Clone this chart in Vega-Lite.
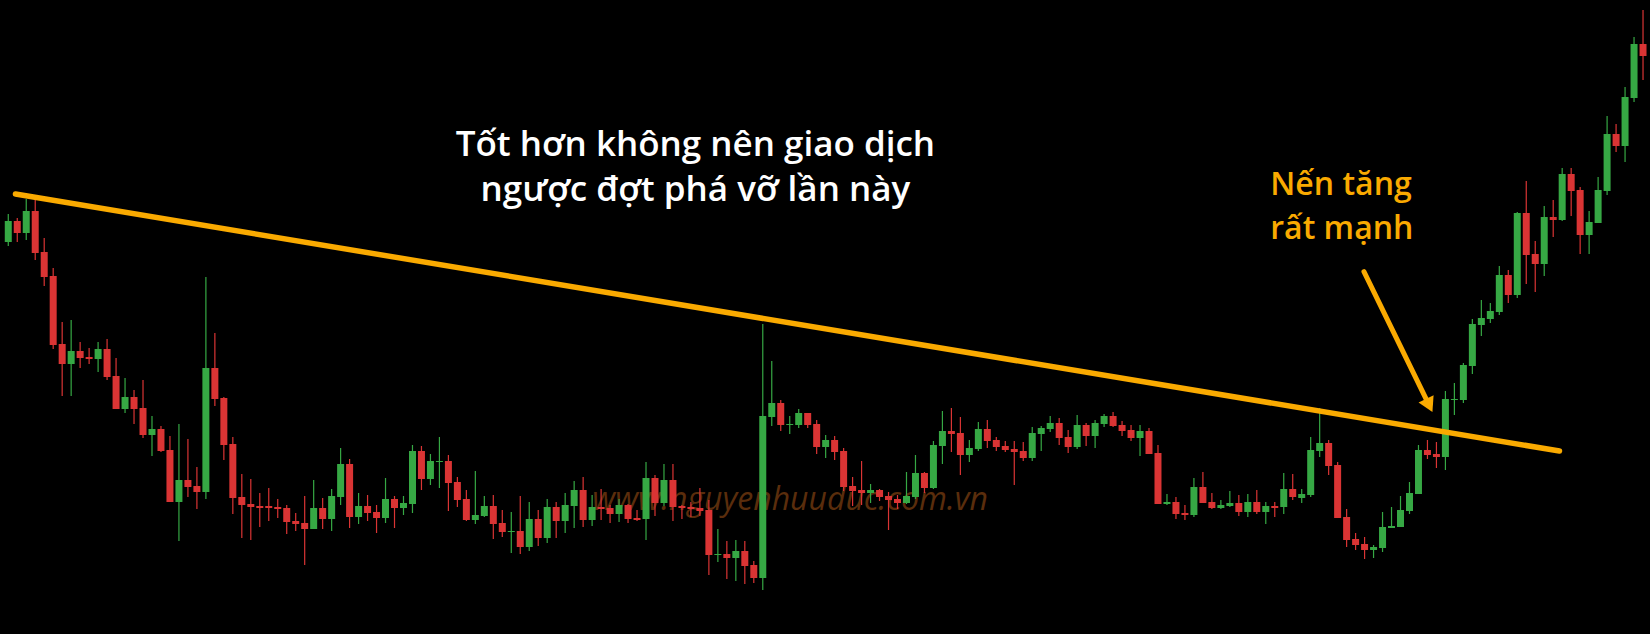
{
  "$schema": "https://vega.github.io/schema/vega-lite/v6.json",
  "width": 1650,
  "height": 634,
  "autosize": {"type": "fit", "contains": "padding"},
  "padding": 0,
  "background": "#000000",
  "config": {"view": {"stroke": null}},
  "datasets": {
    "candles": [
      {"i":0,"h":420,"o":392,"c":413,"l":388},{"i":1,"h":416,"o":413,"c":401,"l":392},{"i":2,"h":435,"o":401,"c":423,"l":394},{"i":3,"h":434,"o":423,"c":381,"l":374},{"i":4,"h":396,"o":382,"c":357,"l":348},{"i":5,"h":366,"o":358,"c":289,"l":285},{"i":6,"h":312,"o":290,"c":270,"l":238},{"i":7,"h":314,"o":270,"c":283,"l":238},{"i":8,"h":292,"o":283,"c":276,"l":266},{"i":9,"h":286,"o":277,"c":275,"l":270},
      {"i":10,"h":292,"o":275,"c":285,"l":262},{"i":11,"h":295,"o":285,"c":257,"l":254},{"i":12,"h":276,"o":258,"c":225,"l":225},{"i":13,"h":256,"o":225,"c":237,"l":221},{"i":14,"h":244,"o":237,"c":225,"l":210},{"i":15,"h":254,"o":226,"c":199,"l":196},{"i":16,"h":218,"o":199,"c":205,"l":178},{"i":17,"h":208,"o":205,"c":183,"l":182},{"i":18,"h":198,"o":184,"c":132,"l":132},{"i":19,"h":210,"o":132,"c":154,"l":93},
      {"i":20,"h":195,"o":154,"c":147,"l":137},{"i":21,"h":167,"o":148,"c":142,"l":125},{"i":22,"h":357,"o":142,"c":266,"l":135},{"i":23,"h":301,"o":266,"c":235,"l":228},{"i":24,"h":237,"o":236,"c":189,"l":174},{"i":25,"h":197,"o":190,"c":136,"l":120},{"i":26,"h":160,"o":137,"c":129,"l":96},{"i":27,"h":155,"o":130,"c":127,"l":94},{"i":28,"h":141,"o":128,"c":126,"l":107},{"i":29,"h":146,"o":128,"c":126,"l":113},
      {"i":30,"h":135,"o":127,"c":125,"l":116},{"i":31,"h":129,"o":126,"c":112,"l":100},{"i":32,"h":121,"o":113,"c":110,"l":103},{"i":33,"h":138,"o":111,"c":105,"l":69},{"i":34,"h":154,"o":105,"c":126,"l":105},{"i":35,"h":136,"o":126,"c":115,"l":105},{"i":36,"h":145,"o":115,"c":138,"l":103},{"i":37,"h":186,"o":137,"c":170,"l":129},{"i":38,"h":175,"o":170,"c":117,"l":106},{"i":39,"h":141,"o":117,"c":128,"l":110},
      {"i":40,"h":139,"o":128,"c":121,"l":113},{"i":41,"h":129,"o":122,"c":116,"l":101},{"i":42,"h":156,"o":116,"c":135,"l":111},{"i":43,"h":138,"o":135,"c":126,"l":106},{"i":44,"h":138,"o":126,"c":131,"l":119},{"i":45,"h":189,"o":130,"c":183,"l":121},{"i":46,"h":188,"o":183,"c":155,"l":144},{"i":47,"h":180,"o":155,"c":173,"l":149},{"i":48,"h":197,"o":172,"c":173,"l":146},{"i":49,"h":179,"o":173,"c":151,"l":123},
      {"i":50,"h":157,"o":152,"c":134,"l":127},{"i":51,"h":144,"o":135,"c":114,"l":113},{"i":52,"h":163,"o":114,"c":119,"l":110},{"i":53,"h":138,"o":118,"c":128,"l":117},{"i":54,"h":139,"o":128,"c":110,"l":95},{"i":55,"h":124,"o":111,"c":102,"l":97},{"i":56,"h":122,"o":102,"c":103,"l":81},{"i":57,"h":138,"o":103,"c":87,"l":80},{"i":58,"h":132,"o":87,"c":115,"l":83},{"i":59,"h":124,"o":115,"c":96,"l":88},
      {"i":60,"h":135,"o":96,"c":127,"l":91},{"i":61,"h":132,"o":127,"c":113,"l":96},{"i":62,"h":141,"o":113,"c":129,"l":101},{"i":63,"h":153,"o":128,"c":144,"l":106},{"i":64,"h":157,"o":144,"c":114,"l":107},{"i":65,"h":139,"o":114,"c":127,"l":108},{"i":66,"h":145,"o":127,"c":125,"l":114},{"i":67,"h":129,"o":126,"c":120,"l":111},{"i":68,"h":135,"o":120,"c":129,"l":112},{"i":69,"h":130,"o":129,"c":115,"l":111},
      {"i":70,"h":124,"o":116,"c":114,"l":113},{"i":71,"h":172,"o":115,"c":156,"l":94},{"i":72,"h":159,"o":156,"c":131,"l":118},{"i":73,"h":170,"o":131,"c":154,"l":128},{"i":74,"h":170,"o":154,"c":127,"l":113},{"i":75,"h":129,"o":128,"c":126,"l":115},{"i":76,"h":132,"o":127,"c":125,"l":117},{"i":77,"h":146,"o":126,"c":123,"l":118},{"i":78,"h":134,"o":124,"c":79,"l":59},{"i":79,"h":105,"o":79,"c":80,"l":72},
      {"i":80,"h":93,"o":80,"c":76,"l":55},{"i":81,"h":94,"o":76,"c":83,"l":53},{"i":82,"h":93,"o":83,"c":68,"l":50},{"i":83,"h":73,"o":69,"c":56,"l":51},{"i":84,"h":310,"o":56,"c":218,"l":44},{"i":85,"h":273,"o":217,"c":231,"l":208},{"i":86,"h":234,"o":231,"c":209,"l":203},{"i":87,"h":218,"o":209,"c":210,"l":200},{"i":88,"h":225,"o":209,"c":221,"l":206},{"i":89,"h":221,"o":221,"c":209,"l":206},
      {"i":90,"h":214,"o":210,"c":187,"l":180},{"i":91,"h":199,"o":187,"c":194,"l":176},{"i":92,"h":198,"o":194,"c":182,"l":174},{"i":93,"h":186,"o":183,"c":147,"l":143},{"i":94,"h":157,"o":148,"c":143,"l":128},{"i":95,"h":173,"o":144,"c":141,"l":129},{"i":96,"h":150,"o":141,"c":144,"l":131},{"i":97,"h":145,"o":144,"c":137,"l":133},{"i":98,"h":142,"o":138,"c":134,"l":104},{"i":99,"h":139,"o":135,"c":131,"l":125},
      {"i":100,"h":162,"o":131,"c":138,"l":130},{"i":101,"h":179,"o":137,"c":161,"l":135},{"i":102,"h":162,"o":161,"c":146,"l":141},{"i":103,"h":193,"o":146,"c":189,"l":145},{"i":104,"h":223,"o":188,"c":203,"l":170},{"i":105,"h":226,"o":203,"c":200,"l":182},{"i":106,"h":217,"o":201,"c":179,"l":159},{"i":107,"h":194,"o":179,"c":186,"l":172},{"i":108,"h":212,"o":185,"c":205,"l":183},{"i":109,"h":214,"o":205,"c":193,"l":186},
      {"i":110,"h":197,"o":194,"c":187,"l":183},{"i":111,"h":193,"o":188,"c":184,"l":182},{"i":112,"h":193,"o":185,"c":182,"l":149},{"i":113,"h":192,"o":183,"c":176,"l":173},{"i":114,"h":207,"o":176,"c":201,"l":173},{"i":115,"h":208,"o":200,"c":206,"l":183},{"i":116,"h":218,"o":205,"c":211,"l":202},{"i":117,"h":216,"o":211,"c":196,"l":189},{"i":118,"h":204,"o":197,"c":187,"l":181},{"i":119,"h":219,"o":187,"c":209,"l":185},
      {"i":120,"h":211,"o":209,"c":198,"l":188},{"i":121,"h":214,"o":198,"c":211,"l":186},{"i":122,"h":220,"o":210,"c":218,"l":207},{"i":123,"h":222,"o":218,"c":208,"l":207},{"i":124,"h":213,"o":209,"c":203,"l":198},{"i":125,"h":209,"o":204,"c":196,"l":193},{"i":126,"h":209,"o":196,"c":203,"l":178},{"i":127,"h":206,"o":203,"c":180,"l":180},{"i":128,"h":189,"o":181,"c":130,"l":130},{"i":129,"h":140,"o":130,"c":132,"l":129},
      {"i":130,"h":137,"o":132,"c":120,"l":115},{"i":131,"h":129,"o":121,"c":119,"l":114},{"i":132,"h":156,"o":119,"c":147,"l":117},{"i":133,"h":162,"o":147,"c":131,"l":131},{"i":134,"h":141,"o":132,"c":126,"l":125},{"i":135,"h":134,"o":126,"c":129,"l":125},{"i":136,"h":143,"o":128,"c":131,"l":127},{"i":137,"h":139,"o":131,"c":122,"l":118},{"i":138,"h":140,"o":122,"c":132,"l":117},{"i":139,"h":144,"o":132,"c":122,"l":120},
      {"i":140,"h":132,"o":122,"c":128,"l":110},{"i":141,"h":132,"o":128,"c":126,"l":117},{"i":142,"h":161,"o":127,"c":145,"l":120},{"i":143,"h":160,"o":145,"c":137,"l":134},{"i":144,"h":145,"o":136,"c":140,"l":131},{"i":145,"h":197,"o":139,"c":184,"l":137},{"i":146,"h":226,"o":183,"c":191,"l":177},{"i":147,"h":194,"o":191,"c":168,"l":159},{"i":148,"h":172,"o":169,"c":116,"l":116},{"i":149,"h":125,"o":117,"c":94,"l":87},
      {"i":150,"h":101,"o":95,"c":89,"l":84},{"i":151,"h":97,"o":90,"c":84,"l":75},{"i":152,"h":89,"o":84,"c":87,"l":76},{"i":153,"h":122,"o":86,"c":107,"l":82},{"i":154,"h":127,"o":106,"c":108,"l":106},{"i":155,"h":138,"o":107,"c":124,"l":107},{"i":156,"h":152,"o":123,"c":141,"l":120},{"i":157,"h":189,"o":140,"c":184,"l":140},{"i":158,"h":194,"o":184,"c":179,"l":175},{"i":159,"h":192,"o":180,"c":177,"l":166},
      {"i":160,"h":243,"o":177,"c":235,"l":164},{"i":161,"h":251,"o":234,"c":235,"l":219},{"i":162,"h":271,"o":234,"c":269,"l":231},{"i":163,"h":315,"o":268,"c":310,"l":260},{"i":164,"h":334,"o":309,"c":316,"l":298},{"i":165,"h":331,"o":315,"c":323,"l":311},{"i":166,"h":368,"o":322,"c":359,"l":319},{"i":167,"h":364,"o":359,"c":339,"l":331},{"i":168,"h":422,"o":339,"c":421,"l":336},{"i":169,"h":453,"o":421,"c":379,"l":350},
      {"i":170,"h":393,"o":380,"c":370,"l":342},{"i":171,"h":428,"o":370,"c":417,"l":358},{"i":172,"h":434,"o":417,"c":414,"l":397},{"i":173,"h":466,"o":414,"c":460,"l":413},{"i":174,"h":466,"o":460,"c":443,"l":418},{"i":175,"h":447,"o":444,"c":399,"l":380},{"i":176,"h":423,"o":399,"c":412,"l":380},{"i":177,"h":457,"o":411,"c":444,"l":411},{"i":178,"h":518,"o":443,"c":500,"l":439},{"i":179,"h":510,"o":500,"c":488,"l":482},
      {"i":180,"h":547,"o":488,"c":537,"l":472},{"i":181,"h":597,"o":536,"c":590,"l":532},{"i":182,"h":624,"o":590,"c":578,"l":554}
    ],
    "trend": [{"x": 0.8, "y": 440}, {"x": 172.7, "y": 183}],
    "arrow": [{"x": 150.93, "y": 362.3}, {"x": 158.05, "y": 231.3}],
    "arrowhead": [{"x": 158.2, "y": 228.6}],
    "title": [
      {"x": 76.5, "y": 478, "text": "Tốt hơn không nên giao dịch"},
      {"x": 76.5, "y": 433, "text": "ngược đợt phá vỡ lần này"}
    ],
    "note": [
      {"x": 140.5, "y": 439, "text": "Nến tăng"},
      {"x": 140.5, "y": 394.7, "text": "rất mạnh"}
    ],
    "watermark": [{"x": 87.05, "y": 124, "text": "www.nguyenhuuduc.com.vn"}]
  },
  "layer": [
    {
      "data": {"name": "watermark"},
      "mark": {"type": "text", "font": "Open Sans", "fontStyle": "italic", "fontSize": 32, "color": "#5a2d0c", "align": "center", "baseline": "alphabetic"},
      "encoding": {
        "x": {"field": "x", "type": "quantitative", "scale": {"domain": [-0.365, 182.22], "nice": false, "zero": false}, "axis": null},
        "y": {"field": "y", "type": "quantitative", "scale": {"domain": [0, 634], "nice": false, "zero": false}, "axis": null},
        "text": {"field": "text"}
      }
    },
    {
      "data": {"name": "candles"},
      "mark": {"type": "rule", "strokeWidth": 1.2},
      "encoding": {
        "x": {"field": "i", "type": "quantitative", "scale": {"domain": [-0.365, 182.22], "nice": false, "zero": false}, "axis": null},
        "y": {"field": "l", "type": "quantitative", "scale": {"domain": [0, 634], "nice": false, "zero": false}, "axis": null},
        "y2": {"field": "h"},
        "color": {"condition": {"test": "datum.c >= datum.o", "value": "#36A844"}, "value": "#DA3434"}
      }
    },
    {
      "data": {"name": "candles"},
      "mark": {"type": "bar", "width": 7},
      "encoding": {
        "x": {"field": "i", "type": "quantitative", "scale": {"domain": [-0.365, 182.22], "nice": false, "zero": false}, "axis": null},
        "y": {"field": "o", "type": "quantitative", "scale": {"domain": [0, 634], "nice": false, "zero": false}, "axis": null},
        "y2": {"field": "c"},
        "color": {"condition": {"test": "datum.c >= datum.o", "value": "#36A844"}, "value": "#DA3434"}
      }
    },
    {
      "data": {"name": "trend"},
      "mark": {"type": "line", "color": "#FAAA00", "strokeWidth": 5.5, "strokeCap": "round"},
      "encoding": {
        "x": {"field": "x", "type": "quantitative", "scale": {"domain": [-0.365, 182.22], "nice": false, "zero": false}, "axis": null},
        "y": {"field": "y", "type": "quantitative", "scale": {"domain": [0, 634], "nice": false, "zero": false}, "axis": null}
      }
    },
    {
      "data": {"name": "arrow"},
      "mark": {"type": "line", "color": "#FAAA00", "strokeWidth": 5, "strokeCap": "round"},
      "encoding": {
        "x": {"field": "x", "type": "quantitative", "scale": {"domain": [-0.365, 182.22], "nice": false, "zero": false}, "axis": null},
        "y": {"field": "y", "type": "quantitative", "scale": {"domain": [0, 634], "nice": false, "zero": false}, "axis": null}
      }
    },
    {
      "data": {"name": "arrowhead"},
      "mark": {"type": "point", "shape": "triangle-down", "filled": true, "color": "#FAAA00", "size": 280, "angle": 334, "opacity": 1},
      "encoding": {
        "x": {"field": "x", "type": "quantitative", "scale": {"domain": [-0.365, 182.22], "nice": false, "zero": false}, "axis": null},
        "y": {"field": "y", "type": "quantitative", "scale": {"domain": [0, 634], "nice": false, "zero": false}, "axis": null}
      }
    },
    {
      "data": {"name": "title"},
      "mark": {"type": "text", "font": "Open Sans", "fontWeight": 600, "fontSize": 35, "color": "#FFFFFF", "align": "center", "baseline": "alphabetic"},
      "encoding": {
        "x": {"field": "x", "type": "quantitative", "scale": {"domain": [-0.365, 182.22], "nice": false, "zero": false}, "axis": null},
        "y": {"field": "y", "type": "quantitative", "scale": {"domain": [0, 634], "nice": false, "zero": false}, "axis": null},
        "text": {"field": "text"}
      }
    },
    {
      "data": {"name": "note"},
      "mark": {"type": "text", "font": "Open Sans", "fontWeight": 600, "fontSize": 32, "color": "#FAAA00", "align": "left", "baseline": "alphabetic"},
      "encoding": {
        "x": {"field": "x", "type": "quantitative", "scale": {"domain": [-0.365, 182.22], "nice": false, "zero": false}, "axis": null},
        "y": {"field": "y", "type": "quantitative", "scale": {"domain": [0, 634], "nice": false, "zero": false}, "axis": null},
        "text": {"field": "text"}
      }
    }
  ]
}
